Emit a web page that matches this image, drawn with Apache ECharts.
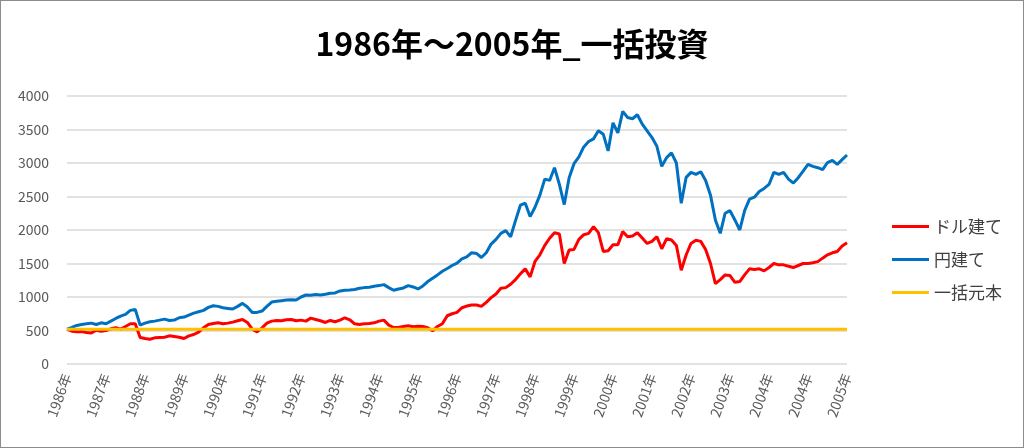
<!DOCTYPE html>
<html>
<head>
<meta charset="utf-8">
<script src="https://cdn.jsdelivr.net/npm/echarts@6/dist/echarts.min.js"></script>
<style>
html,body{margin:0;padding:0;background:#fff;}
#main{width:1024px;height:448px;box-sizing:border-box;border:1px solid #8c8c8c;}
</style>
</head>
<body>
<div id="main"></div>
<script>
const titleText = '1986年～2005年_一括投資';
const seriesNames = ['ドル建て', '円建て', '一括元本'];
const tickLabels = ['1986年','1987年','1988年','1989年','1990年','1991年','1992年','1993年','1994年','1995年','1996年','1997年','1998年','1999年','2000年','2001年','2002年','2003年','2004年','2004年','2005年'];
const pointsPerLabel = 8;
const yTicks = [0, 500, 1000, 1500, 2000, 2500, 3000, 3500, 4000];

const dollarValues = [
520,490,480,484,470,462,505,490,500,525,
543,520,560,600,600,395,380,370,390,395,
400,420,410,400,380,420,440,475,540,590,
605,615,600,610,625,645,665,620,520,480,
540,610,640,650,645,660,665,645,655,640,
685,665,645,620,650,630,655,690,660,600,
590,600,605,615,640,655,580,545,545,560,
570,555,565,560,540,495,560,600,720,750,
770,840,865,880,880,860,920,990,1045,1130,
1140,1190,1260,1345,1420,1300,1530,1630,1770,1877,
1960,1940,1500,1700,1710,1860,1930,1950,2050,1960,
1680,1690,1780,1780,1976,1900,1910,1960,1880,1800,
1830,1900,1720,1870,1850,1770,1400,1627,1800,1848,
1830,1710,1500,1200,1260,1330,1320,1220,1230,1330,
1420,1410,1420,1390,1440,1500,1480,1480,1460,1440,
1470,1500,1500,1510,1528,1580,1630,1660,1680,1760,
1810
];

const yenValues = [
520,545,575,590,600,610,590,615,600,640,
680,715,740,800,815,580,610,630,640,655,
670,650,655,690,700,730,760,780,800,845,
870,860,840,830,820,860,905,850,770,770,
790,860,925,935,945,955,960,955,1000,1030,
1025,1037,1030,1040,1055,1060,1090,1100,1105,1111,
1130,1140,1145,1160,1170,1185,1140,1100,1120,1135,
1170,1150,1120,1165,1230,1280,1330,1385,1425,1470,
1505,1570,1600,1660,1650,1590,1660,1790,1860,1950,
1990,1900,2140,2370,2400,2200,2340,2520,2760,2740,
2930,2680,2380,2780,2990,3090,3240,3320,3360,3480,
3430,3180,3600,3450,3770,3680,3660,3720,3580,3480,
3380,3250,2950,3080,3150,3000,2400,2785,2860,2830,
2870,2740,2520,2150,1950,2250,2290,2150,2000,2290,
2460,2490,2575,2620,2680,2860,2830,2860,2760,2700,
2780,2880,2980,2950,2930,2900,3007,3040,2980,3050,
3120
];

const principal = 520;

const categories = dollarValues.map((_, i) => String(i));
const principalValues = categories.map(() => principal);

const chart = echarts.init(document.getElementById('main'), null, {renderer: 'canvas'});
const font = '"Noto Sans CJK JP", "Noto Sans", sans-serif';
chart.setOption({
  animation: false,
  backgroundColor: '#ffffff',
  title: {
    text: titleText,
    left: 'center',
    top: 22,
    textStyle: {fontFamily: font, fontSize: 32, fontWeight: 'bold', color: '#000000'}
  },
  legend: {
    orient: 'vertical',
    left: 886,
    top: 212,
    icon: 'rect',
    itemWidth: 37,
    itemHeight: 3,
    itemGap: 16,
    textStyle: {fontFamily: font, fontSize: 17, color: '#404040'},
    data: seriesNames
  },
  grid: {left: 66, right: 176, top: 95, bottom: 83, containLabel: false},
  xAxis: {
    type: 'category',
    boundaryGap: false,
    data: categories,
    axisLine: {show: false},
    axisTick: {show: false},
    splitLine: {show: false},
    axisLabel: {
      interval: pointsPerLabel - 1,
      rotate: 70,
      margin: 10,
      fontFamily: font,
      fontSize: 14,
      color: '#595959',
      formatter: (v, idx) => (idx % pointsPerLabel === 0 ? tickLabels[idx / pointsPerLabel] : '')
    }
  },
  yAxis: {
    type: 'value',
    min: yTicks[0],
    max: yTicks[yTicks.length - 1],
    interval: yTicks[1] - yTicks[0],
    axisLine: {show: false},
    axisTick: {show: false},
    splitLine: {lineStyle: {color: '#d9d9d9', width: 1.5}},
    axisLabel: {margin: 18, fontFamily: font, fontSize: 14, color: '#595959',
      formatter: (v) => String(v)}
  },
  series: [
    {name: seriesNames[0], type: 'line', data: dollarValues, showSymbol: false, symbol: 'none',
     lineStyle: {color: '#ff0000', width: 3}, itemStyle: {color: '#ff0000'}},
    {name: seriesNames[1], type: 'line', data: yenValues, showSymbol: false, symbol: 'none',
     lineStyle: {color: '#0070c0', width: 3}, itemStyle: {color: '#0070c0'}},
    {name: seriesNames[2], type: 'line', data: principalValues, showSymbol: false, symbol: 'none',
     lineStyle: {color: '#ffc000', width: 3}, itemStyle: {color: '#ffc000'}}
  ]
});
</script>
</body>
</html>
